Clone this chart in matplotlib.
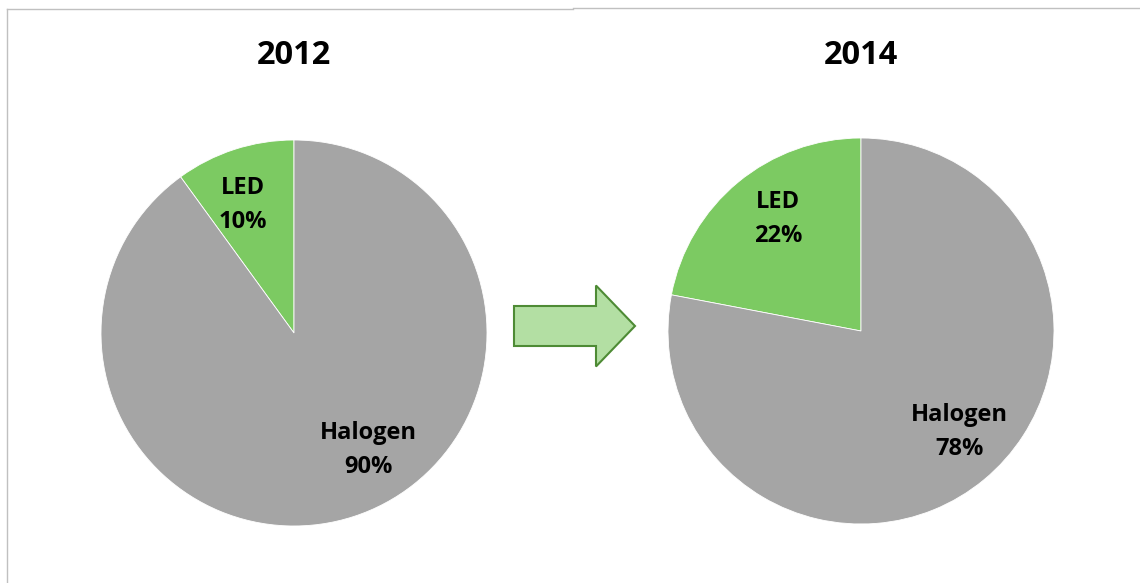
import numpy as np
import matplotlib
matplotlib.use("Agg")
import matplotlib.pyplot as plt
from matplotlib.patches import FancyArrow
from matplotlib.lines import Line2D

years = ["2012", "2014"]
categories = ["LED", "Halogen"]
values_2012 = [10, 90]
values_2014 = [22, 78]
colors = ["#7cca62", "#a5a5a5"]

W, H = 1140, 583
fig = plt.figure(figsize=(W / 100, H / 100), dpi=100)
ax = fig.add_axes([0, 0, 1, 1])
ax.set_xlim(0, W)
ax.set_ylim(0, H)
ax.set_aspect("equal")
ax.axis("off")

font = "Open Sans"
centers = [(294, H - 333), (861, H - 331)]
radius = 193
# label placement (angle in degrees, distance as fraction of radius) per pie
label_place = [[(111.7, 0.715), (302.5, 0.72)],
               [(126.5, 0.72), (314.4, 0.73)]]
for yr, vals, c, places in zip(years, [values_2012, values_2014], centers, label_place):
    wedges, _ = ax.pie(vals, colors=colors, startangle=90, counterclock=True,
                       center=c, radius=radius,
                       wedgeprops=dict(linewidth=0.6, edgecolor="white"))
    for cat, v, (ang, dist) in zip(categories, vals, places):
        a = np.deg2rad(ang)
        ax.text(c[0] + dist * radius * np.cos(a), c[1] + dist * radius * np.sin(a),
                f"{cat}\n{v}%", ha="center", va="center", fontsize=17,
                fontweight="bold", family=font, color="black", linespacing=1.55)
    ax.text(c[0], H - 55, yr, ha="center", va="center", fontsize=23.5,
            fontweight="bold", family=font)

ax.set_xlim(0, W)
ax.set_ylim(0, H)

arrow = FancyArrow(514, H - 326, 121, 0, width=40, head_width=81, head_length=39,
                   length_includes_head=True, facecolor="#b3dfa3", edgecolor="#4e8b35",
                   linewidth=1.5)
ax.add_patch(arrow)

fig.add_artist(Line2D([7 / W, 7 / W], [0, 1 - 9 / H], color="#c0c0c0", lw=1))
fig.add_artist(Line2D([7 / W, 573 / W], [1 - 9 / H, 1 - 9 / H], color="#c0c0c0", lw=1))
fig.add_artist(Line2D([573 / W, 1], [1 - 8 / H, 1 - 8 / H], color="#c0c0c0", lw=1))

fig.savefig("out.png", dpi=100)
